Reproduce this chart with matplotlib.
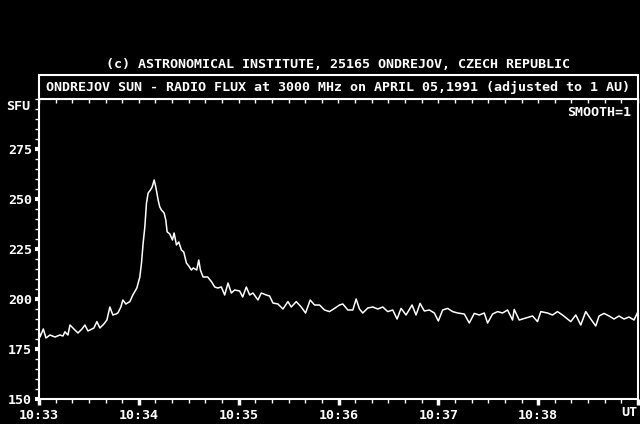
import matplotlib
matplotlib.use("Agg")
import matplotlib.pyplot as plt
from matplotlib.patches import Rectangle
from matplotlib.ticker import MultipleLocator
import numpy as np

# seconds after 10:33:00 UT, flux in SFU
t_sec = [0, 0.6, 2.6, 4.2, 6.6, 9.6, 12.6, 14.4, 15.6, 17.4, 18.6, 20.4, 23.4, 25.8,
         27.6, 29.4, 30.6, 33, 34.8, 36.6, 39, 40.8, 42.6, 44.4, 46.2, 47.4, 49.2,
         50.4, 52.2, 54.6, 56.4, 58.8, 60.6, 61.6, 62.6, 63.6, 64.6, 65.6, 67, 68,
         69.2, 70.2, 71.6, 72.6, 73.6, 75.2, 76.2, 77, 78.6, 80.2, 81.2, 82.6, 84,
         85.6, 87, 88.6, 90, 91.6, 92.7, 94.8, 96, 97, 98.6, 101.4, 103.6, 105.6,
         107.4, 109.6, 111.6, 113.6, 115.6, 117.6, 120.6, 122.4, 124.6, 126.6, 128.6,
         131.6, 133.6, 136.6, 138.6, 140.6, 143.6, 146.6, 149.6, 151.6, 154.6, 157.6,
         160.2, 163, 165.6, 168.6, 171.6, 174.6, 177.6, 180.6, 182.6, 185.6, 188.6,
         190.6, 192.6, 194.6, 197.6, 200.6, 203.6, 206.6, 209.6, 212.6, 215.2, 217.6,
         220.6, 224.2, 226.6, 229, 231.6, 234.6, 237.6, 240, 242.6, 245.6, 248.6,
         251.6, 255.6, 258.6, 261.6, 264.6, 267.6, 269.6, 272.6, 275.6, 278.6, 281.6,
         284.6, 285.6, 288.6, 292.6, 296.6, 299.6, 301.6, 305.6, 308.6, 311.6, 314.6,
         319.6, 322.6, 325.6, 328.6, 331.6, 334.6, 336.6, 339.6, 342.6, 345.6, 348.6,
         351.6, 354.6, 357.6, 359.6]
flux = [184.5, 181, 185, 180.5, 182, 181, 182, 181.5, 183.6, 182, 187, 185.5, 183, 185,
        187, 184, 184.5, 185.5, 188.7, 185.5, 187.5, 189.5, 196, 192, 192.5, 193, 196,
        199.5, 197.5, 198.7, 202, 205.5, 211, 218, 228, 236, 248, 253, 254.5, 256,
        259.5, 256, 249.5, 246, 244.5, 243, 239.5, 233.6, 232.5, 229.5, 233, 227, 228.5,
        224.5, 223.5, 218, 216.5, 214.5, 215.5, 214.5, 219.5, 214.5, 211, 211, 208.7, 206,
        205.5, 206, 202, 208, 203, 204.5, 204, 201, 206, 202, 203,
        199.5, 203, 202, 201.5, 198, 197.5, 195, 198.7, 196, 198.7, 196,
        193, 199.5, 197, 197, 194.5, 193.7, 195.3, 197, 197.5, 194.5, 194.5,
        200, 195, 193, 195.5, 196, 195, 196, 193.7, 194.5, 190, 195.3,
        192, 197, 192, 197.8, 194, 194.5, 193, 189, 194.5, 195.3, 193.7,
        193, 192.5, 188, 192.8, 192, 193, 188, 192.5, 193.7, 193, 194.5,
        189.5, 194.8, 189.5, 190.5, 191.5, 188.7, 193.7, 193, 192, 193.7, 192,
        188.7, 192, 187, 193.7, 190, 186.5, 191.5, 192.8, 191.5, 190, 191.5,
        190, 191, 189.5, 193]

x_ticks = [33, 34, 35, 36, 37, 38, 39]
x_labels = ["10:33", "10:34", "10:35", "10:36", "10:37", "10:38", ""]
y_ticks = [150, 175, 200, 225, 250, 275]

W, H = 640, 424
FONT = "DejaVu Sans Mono"
FS = 9.6
plt.rcParams["font.family"] = FONT
plt.rcParams["font.weight"] = "bold"

fig = plt.figure(figsize=(6.4, 4.24), dpi=100, facecolor="black")
L, R, B, T = 39 / W, 638 / W, 1 - 399 / H, 1 - 99 / H
ax = fig.add_axes([L, B, R - L, T - B], facecolor="black")

minutes = 33 + np.array(t_sec) / 60.0
ax.plot(minutes, flux, color="white", lw=1.1)

ax.set_xlim(33, 39)
ax.set_ylim(150, 300)
for s in ax.spines.values():
    s.set_color("white")
    s.set_linewidth(1.5)

ax.set_xticks(x_ticks)
ax.set_xticklabels(x_labels)
ax.xaxis.set_minor_locator(MultipleLocator(1 / 6))
ax.tick_params(axis="x", which="major", direction="out", length=4, width=2.5,
               colors="white", labelsize=FS, pad=3)
ax.tick_params(axis="x", which="minor", direction="out", length=3, width=1,
               colors="white")

ax.set_yticks(y_ticks)
ax.yaxis.set_minor_locator(MultipleLocator(5))
ax.tick_params(axis="y", which="major", direction="out", length=3, width=3,
               colors="white", labelsize=FS, pad=2)
ax.tick_params(axis="y", which="minor", direction="out", length=3, width=1,
               colors="white")

# small inward ticks on the top edge
top = ax.secondary_xaxis("top")
top.set_xticks(np.arange(33, 39.01, 1 / 6))
top.set_xticklabels([])
top.tick_params(direction="in", length=3, width=1, colors="white")
top.spines["top"].set_visible(False)

# title box sitting on top of the axes
fig.patches.append(Rectangle((L, T), R - L, 24 / H, transform=fig.transFigure,
                             facecolor="black", edgecolor="white", lw=1.5))
fig.text((L + R) / 2, 1 - 87 / H,
         "ONDREJOV SUN - RADIO FLUX at 3000 MHz on APRIL 05,1991 (adjusted to 1 AU)",
         color="white", fontsize=FS, ha="center", va="center")
fig.text((L + R) / 2, 1 - 64 / H,
         "(c) ASTRONOMICAL INSTITUTE, 25165 ONDREJOV, CZECH REPUBLIC",
         color="white", fontsize=FS, ha="center", va="center")
fig.text(30 / W, 1 - 107 / H, "SFU", color="white", fontsize=FS, ha="right", va="center")
fig.text(631 / W, 1 - 112 / H, "SMOOTH=1", color="white", fontsize=FS,
         ha="right", va="center")
fig.text(637 / W, 1 - 412 / H, "UT", color="white", fontsize=FS, ha="right", va="center")

fig.savefig("out.png", dpi=100, facecolor="black")
